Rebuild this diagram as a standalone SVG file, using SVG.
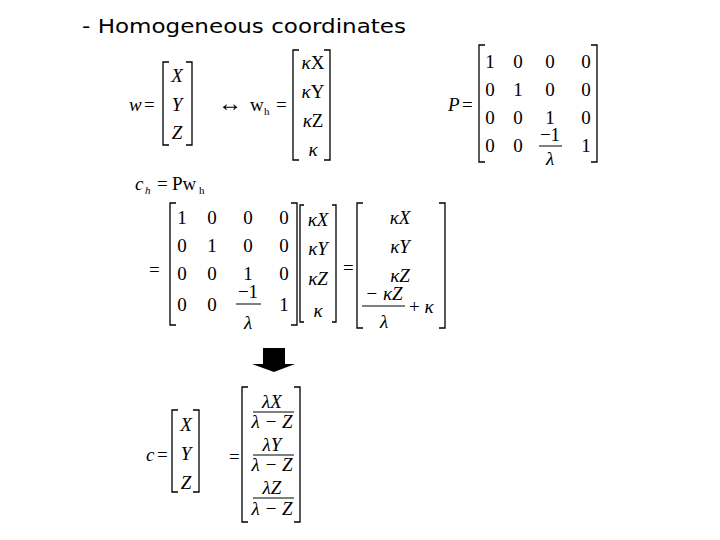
<svg xmlns="http://www.w3.org/2000/svg" width="720" height="540" viewBox="0 0 720 540">
<style>
text{font-family:"Liberation Serif","Times New Roman",serif;font-size:19px;fill:#000}
.i{font-style:italic}
.c{text-anchor:middle}
.t{font-family:"DejaVu Sans","Liberation Sans",sans-serif;font-size:20px}
.s{font-size:11px}
.m{font-size:17px}
.b{fill:none;stroke:#000;stroke-width:1.3}
.f{stroke:#000;stroke-width:1}
</style>
<rect width="720" height="540" fill="#fff"/>
<text class="t" x="82" y="33" textLength="324" lengthAdjust="spacingAndGlyphs">- Homogeneous coordinates</text>

<g id="w">
<text class="i" x="129" y="111">w</text><text x="144" y="111">=</text>
<path class="b" d="M169,62H163V145H169M186,62H192V145H186"/>
<text class="i c" x="177" y="82">X</text><text class="i c" x="177" y="111">Y</text><text class="i c" x="177" y="139">Z</text>
</g>
<text id="arrow" x="218" y="111" style="font-size:24px">↔</text>
<g id="wh">
<text x="250" y="111">w</text><text class="s" x="264" y="115">h</text><text x="276" y="111">=</text>
<path class="b" d="M299,50H293V160H299M324,50H330V160H324"/>
<text class="c" x="313" y="69"><tspan class="i">κ</tspan>X</text>
<text class="c" x="313" y="98"><tspan class="i">κ</tspan>Y</text>
<text class="c" x="313" y="127"><tspan class="i">κ</tspan>Z</text>
<text class="i c" x="313" y="156">κ</text>
</g>
<g id="P">
<text class="i" x="448" y="111">P</text><text x="462" y="111">=</text>
<path class="b" d="M485,45H479V162H485M591,45H597V162H591"/>
<g class="c">
<text x="490" y="68">1</text><text x="518" y="68">0</text><text x="550" y="68">0</text><text x="586" y="68">0</text>
<text x="490" y="96">0</text><text x="518" y="96">1</text><text x="550" y="96">0</text><text x="586" y="96">0</text>
<text x="490" y="124">0</text><text x="518" y="124">0</text><text x="550" y="124">1</text><text x="586" y="124">0</text>
<text x="490" y="152">0</text><text x="518" y="152">0</text><text x="550" y="141">−1</text><text class="i" x="550" y="165">λ</text><text x="586" y="152">1</text>
</g>
<line class="f" x1="539" y1="146" x2="562" y2="146"/>
</g>
<g id="ch">
<text class="i" x="135" y="190">c</text><text class="s i" x="145" y="194">h</text><text x="157" y="190">=</text>
<text x="172" y="190">Pw</text><text class="s" x="199" y="194">h</text>
</g>
<g id="product">
<text x="149" y="276">=</text>
<path class="b" d="M176,203H170V325H176M291,203H297V325H291"/>
<g class="c">
<text x="182" y="224">1</text><text x="212" y="224">0</text><text x="248" y="224">0</text><text x="284" y="224">0</text>
<text x="182" y="252">0</text><text x="212" y="252">1</text><text x="248" y="252">0</text><text x="284" y="252">0</text>
<text x="182" y="280">0</text><text x="212" y="280">0</text><text x="248" y="280">1</text><text x="284" y="280">0</text>
<text x="182" y="311">0</text><text x="212" y="311">0</text><text x="248" y="298">−1</text><text class="i" x="248" y="329">λ</text><text x="284" y="311">1</text>
<text class="i" x="318" y="226">κX</text><text class="i" x="318" y="255">κY</text><text class="i" x="318" y="285">κZ</text><text class="i" x="318" y="317">κ</text>
</g>
<line class="f" x1="236" y1="304" x2="261" y2="304"/>
<path class="b" d="M304,205H300V322H304M332,205H336V322H332"/>
<text x="343" y="274">=</text>
<path class="b" d="M363,203H357V328H363M439,203H445V328H439"/>
<g class="c i">
<text x="400" y="224">κX</text><text x="400" y="253">κY</text><text x="400" y="282">κZ</text>
<text x="384" y="300">− κZ</text><text x="384" y="328">λ</text>
</g>
<line class="f" x1="362" y1="306" x2="405" y2="306"/>
<text x="409" y="313">+ <tspan class="i">κ</tspan></text>
</g>
<path id="downarrow" d="M263,348H285V364H295L274,372L252,364H263Z" fill="#000"/>
<g id="c">
<text class="i" x="146" y="461">c</text><text x="157" y="461">=</text>
<path class="b" d="M178,410H172V492H178M193,410H199V492H193"/>
<text class="i c" x="186" y="431">X</text><text class="i c" x="186" y="460">Y</text><text class="i c" x="186" y="489">Z</text>
<text x="229" y="463">=</text>
<path class="b" d="M248,387H242V522H248M294,387H300V522H294"/>
<g class="c i m">
<text x="272" y="408">λX</text><text x="272" y="428">λ − Z</text>
<text x="272" y="451">λY</text><text x="272" y="471">λ − Z</text>
<text x="272" y="494">λZ</text><text x="272" y="515">λ − Z</text>
</g>
<line class="f" x1="253" y1="412" x2="294" y2="412"/>
<line class="f" x1="253" y1="455" x2="294" y2="455"/>
<line class="f" x1="253" y1="498" x2="294" y2="498"/>
</g>
</svg>
